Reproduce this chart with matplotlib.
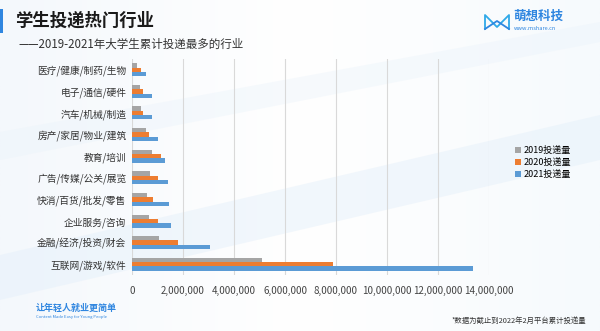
import numpy as np
import matplotlib.pyplot as plt
from matplotlib.colors import LinearSegmentedColormap
from matplotlib.patches import Polygon, Rectangle
from matplotlib.ticker import FuncFormatter

plt.rcParams['font.family'] = ['Noto Sans CJK SC', 'DejaVu Sans']

industries = ['医疗/健康/制药/生物', '电子/通信/硬件', '汽车/机械/制造',
              '房产/家居/物业/建筑', '教育/培训', '广告/传媒/公关/展览',
              '快消/百货/批发/零售', '企业服务/咨询', '金融/经济/投资/财会',
              '互联网/游戏/软件']
v2019 = [200000, 310000, 350000, 550000, 780000, 710000, 590000, 680000, 1070000, 5100000]
v2020 = [360000, 420000, 440000, 680000, 1150000, 1000000, 810000, 1020000, 1800000, 7900000]
v2021 = [550000, 800000, 800000, 1020000, 1290000, 1420000, 1440000, 1540000, 3070000, 13370000]
series_names = ['2019投递量', '2020投递量', '2021投递量']
colors = ['#A5A5A5', '#ED7D31', '#5B9BD5']
xticks = np.arange(0, 14000001, 2000000)

fig = plt.figure(figsize=(6, 3.31), dpi=100)

# background: soft white-blue gradient with pale diagonal bands
bg = fig.add_axes([0, 0, 1, 1], zorder=0)
bg.set_xlim(0, 600)
bg.set_ylim(331, 0)
bg.axis('off')
grad = np.linspace(0, 1, 256)[None, :]
bg.imshow(grad, extent=[0, 600, 331, 0], aspect='auto',
          cmap=LinearSegmentedColormap.from_list('bgc', ['#F4F8FC', '#FFFFFF', '#F6FAFD']))
bg.add_patch(Polygon([[0, 300], [0, 255], [600, 115], [600, 160]], closed=True,
                     color='#E3EFFA', alpha=0.45, lw=0))
bg.add_patch(Polygon([[0, 160], [0, 132], [600, 22], [600, 42]], closed=True,
                     color='#EAF3FB', alpha=0.4, lw=0))
bg.add_patch(Rectangle((0, 9), 3, 24, color='#2F86E0', lw=0))

# header texts
bg.text(15, 21, '学生投递热门行业', fontsize=12.5, fontweight='bold', color='#1A1A1A', va='center')
bg.text(18, 44, '——2019-2021年大学生累计投递最多的行业', fontsize=8.3, color='#333333', va='center')

# logo: bowtie mark
x0, x1, xm, y0, y1 = 485, 509, 497, 15, 29
bg.plot([x0, x0, xm, x1, x1], [y1, y0, y1 - 2, y0, y1], color='#2FA9E8', lw=1.3,
        solid_joinstyle='round')
bg.plot([x0, xm, x1], [y1, y0 + 6, y1], color='#2F86E0', lw=1.3, solid_joinstyle='round')
bg.text(513, 16, '萌想科技', fontsize=9, fontweight='bold', color='#2F86E0', va='center')
bg.text(514, 28, 'www.mshare.cn', fontsize=4, color='#2F86E0', va='center')

# footer texts
bg.text(36, 308, '让年轻人就业更简单', fontsize=6.5, fontweight='bold', color='#2F86E0', va='center')
bg.text(36, 317, 'Content Made Easy for Young People', fontsize=3, color='#2F86E0', va='center')
bg.text(586, 321, '*数据为截止到2022年2月平台累计投递量', fontsize=5.3, color='#333333',
        va='center', ha='right')

# chart
ax = fig.add_axes([0.22, 0.169, 0.595, 0.653], zorder=1)
ax.patch.set_alpha(0)
y = np.arange(len(industries))
h = 0.2
for i, (vals, name, c) in enumerate(zip([v2019, v2020, v2021], series_names, colors)):
    ax.barh(y + (i - 1) * h, vals, height=h, color=c, label=name, zorder=2)

ax.set_yticks(y)
ax.set_yticklabels(industries, fontsize=7, color='#333333')
ax.set_ylim(len(industries) - 0.5, -0.5)
ax.set_xlim(0, 14000000)
ax.set_xticks(xticks)
ax.xaxis.set_major_formatter(FuncFormatter(lambda v, p: f'{int(v):,}'))
ax.tick_params(axis='x', labelsize=7, colors='#444444', length=0, pad=8)
ax.tick_params(axis='y', length=0, pad=4)
ax.grid(axis='x', color='#D9D9D9', lw=0.8, zorder=0)
for s in ax.spines.values():
    s.set_visible(False)

ax.legend(loc='center left', bbox_to_anchor=(1.05, 0.52), frameon=False, fontsize=6.5,
          handlelength=0.7, handleheight=0.7, handletextpad=0.3, labelspacing=0.3)

fig.savefig('out.png', dpi=100)
